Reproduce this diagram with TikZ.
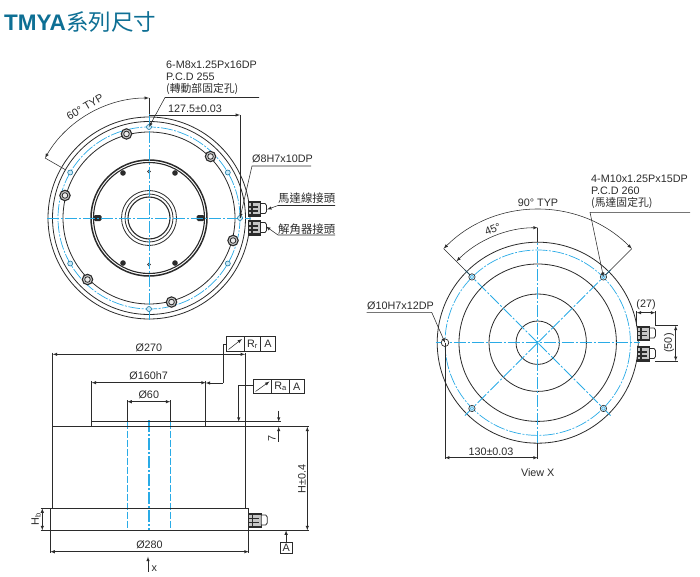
\documentclass[tikz,border=0pt]{standalone}
\usepackage{fontspec}
\setmainfont{Liberation Sans}
\newfontfamily\cjk{Noto Sans CJK TC}
\usetikzlibrary{positioning}
\definecolor{cline}{HTML}{2B2B2B}
\definecolor{cblue}{HTML}{2AABE6}
\definecolor{ctitle}{HTML}{0E6F94}
\tikzset{
	outline/.style={draw=cline, line width=0.8pt},
	thickline/.style={draw=cline, line width=1.5pt},
	thinline/.style={draw=cline, line width=0.55pt},
	dimline/.style={thinline, arrows={latex-latex}},
	leader/.style={thinline, arrows={-latex}},
	centerline/.style={draw=cblue, line width=0.9pt, dash pattern=on 12pt off 2pt on 2pt off 2pt},
	hiddenline/.style={draw=cblue, line width=0.9pt, dash pattern=on 7pt off 2pt},
	pcdline/.style={draw=cblue, line width=0.7pt, dash pattern=on 12pt off 1.5pt on 2pt off 1.5pt},
	dimtext/.style={text=cline, inner sep=0pt, font=\fontsize{10.8}{12}\selectfont},
	cjktext/.style={text=cline, inner sep=0pt, font=\cjk\fontsize{11.4}{12}\selectfont},
	plugbody/.pic={
		\draw [outline, fill=gray!45] (0,0) rectangle (12.5,14.5);
		\draw [thickline] (0,1) -- (12.5,1);
		\draw [thickline] (0,13.5) -- (12.5,13.5);
		\draw [thickline, line width=1.1pt] (0,5.5) -- (10,5.5);
		\draw [thickline, line width=1.1pt] (0,9.5) -- (10,9.5);
		\draw [thickline, line width=1.1pt] (4,0) -- (4,14.5);
		\draw [outline, fill=white] (12.5,2) -- (17,2) -- (18.5,4) -- (18.5,10) -- (17,12) -- (12.5,12) -- cycle;
	},
}
\begin{document}
\begin{tikzpicture}[x=1pt, y=-1pt]
	\useasboundingbox (0,0) rectangle (700,577);
	\node (title) [anchor=base west, inner sep=0pt, text=ctitle] at (4,30.5) {\fontsize{22.5}{24}\selectfont\bfseries TMYA\hspace{0.5pt}\cjk\mdseries\fontsize{22.5}{24}\selectfont 系列尺寸};

	% top view
	\begin{scope}[shift={(149,218)}, y=1pt]
		\foreach \r in {101,96.5,86} \draw [outline] (0,0) circle (\r);
		\draw [pcdline] (0,0) circle (91);
		\draw [thickline] (0,0) circle (58);
		\draw [thickline, line width=1.1pt] (0,0) circle (55.5);
		\foreach \r in {27.5,24} \draw [outline] (0,0) circle (\r);
		\draw [thickline, line width=1.1pt] (0,0) circle (21);
		\foreach \a in {60,120,240,300} \fill [cline] (\a:52) circle (2.8);
		\foreach \x in {-51.5,51.5} \fill [cline, rounded corners=1.5pt] (\x-4,-3) rectangle (\x+4,3);
		\foreach \y in {-46.5,46.5} \draw [thinline, fill=gray!60] (0,\y) circle (1.6);
		\foreach \a in {45,105,165,225,285,345} {
			\draw [thickline, line width=1.1pt, fill=gray!45] (\a:87) circle (5.2);
			\draw [outline, fill=gray!15] (\a:87) circle (2.8);
		}
		\draw [centerline] (-102,0) -- (102,0);
		\draw [centerline] (0,105) -- (0,-102);
		\foreach \a in {30,90,150,210,270,330,0} \draw [draw=cblue!70!black, line width=0.6pt, fill=cblue!25] (\a:91) circle (2.5);
		\coordinate (holetop) at (90:91);
		\coordinate (holeleft) at (150:91);
		\coordinate (holedowel) at (0:91);
		\coordinate (arctop) at (90:120);
		\coordinate (arcleft) at (150:120);
		% 60 degrees
		\draw [dimline] (arcleft) arc [start angle=150, end angle=90, radius=120];
		\draw [thinline] (150:120) -- (150:96);
		\draw [thinline] (arctop) -- (90:104);
		\coordinate (dimtop) at (91,103);
		\coordinate (dimcorner) at (0,103);
		\draw [thinline] (holedowel) -- (dimtop);
		\draw [thinline, arrows={-latex}] (dimcorner) -- (dimtop);
	\end{scope}
	\node (toptyp) [dimtext, rotate=30] at (85,107) {60° TYP};
	\node (topdim) [dimtext] at (195,109) {127.5±0.03};
	\node (toptext) [dimtext, align=left, anchor=north west] at (166,60.5) {6-M8x1.25Px16DP\\P.C.D 255\\{\cjk (轉動部固定孔)}};
	\coordinate (topknee) at (165,97.5);
	\coordinate (topend) at (259,97.5);
	\draw [leader] (topend) -- (topknee) -- (holetop);
	\node (dowel) [dimtext, anchor=base west] at (252,163) {Ø8H7x10DP};
	\coordinate (dowelknee) at (252,166);
	\coordinate (dowelend) at (311,166);
	\draw [leader] (dowelend) -- (dowelknee) -- (holedowel);
	\pic at (248,201.5) {plugbody};
	\pic at (248,220.5) {plugbody};
	\node (motorplug) [cjktext, anchor=west] at (278,198.5) {馬達線接頭};
	\coordinate (motorknee) at (278,205.5);
	\coordinate (motorend) at (335,205.5);
	\coordinate (motortip) at (267,209.5);
	\draw [leader] (motorend) -- (motorknee) -- (motortip);
	\node (resolver) [cjktext, anchor=west] at (278,229) {解角器接頭};
	\coordinate (resolverknee) at (278,235);
	\coordinate (resolverend) at (335,235);
	\coordinate (resolvertip) at (266,226.5);
	\draw [leader] (resolverend) -- (resolverknee) -- (resolvertip);

	% side view
	\draw [hiddenline] (127.3,421.7) -- (127.3,530.3);
	\draw [hiddenline] (170.3,421.7) -- (170.3,530.3);
	\draw [centerline, line width=1.1pt] (149,420) -- (149,530.3);
	\draw [outline] (52.7,426.7) -- (52.7,508.3) (245,426.7) -- (245,508.3);
	\draw [outline] (50.3,508.3) rectangle (248.7,530.3);
	\draw [outline] (52.7,426.7) -- (309.3,426.7);
	\draw [outline] (91.7,426.7) -- (91.7,421.7) (205.7,426.7) -- (205.7,421.7);
	\draw [thickline, line width=1.1pt] (91.7,421.7) -- (205.7,421.7);
	\draw [thinline] (205.7,421.7) -- (281,421.7);
	\draw [thinline] (248.7,530.3) -- (309.3,530.3);
	\pic at (248.7,513) {plugbody};
	% dimensions
	\draw [thinline] (52.7,352.7) -- (52.7,426.7) (245,352.7) -- (245,426.7);
	\draw [dimline] (52.7,354.3) -- (245,354.3) node (dimbody) [dimtext, midway, above=2.5pt] {Ø270};
	\draw [thinline] (91.7,381) -- (91.7,421.7) (205.7,381) -- (205.7,421.7);
	\draw [dimline] (91.7,382.7) -- (205.7,382.7) node (dimhub) [dimtext, midway, above=2.5pt] {Ø160h7};
	\draw [thinline] (127.3,400) -- (127.3,421.7) (170.3,400) -- (170.3,421.7);
	\draw [dimline] (127.3,401.7) -- (170.3,401.7) node (dimbore) [dimtext, midway, above=2.5pt] {Ø60};
	\draw [thinline] (50.3,530.3) -- (50.3,553.3) (248.7,530.3) -- (248.7,553.3);
	\draw [dimline] (50.3,551.7) -- (248.7,551.7) node (dimbase) [dimtext, midway, above=2.5pt] {Ø280};
	\draw [thinline] (40.7,508.3) -- (50.3,508.3) (40.7,530.3) -- (50.3,530.3);
	\draw [dimline] (42.3,508.3) -- (42.3,530.3);
	\node (dimhb) [dimtext, rotate=90] at (36,519) {H\textsubscript{b}};
	\draw [leader] (278.7,410.7) -- (278.7,421.7);
	\draw [leader] (278.7,441.7) -- (278.7,426.7);
	\node (dimseven) [dimtext, rotate=90] at (272,438) {7};
	\draw [dimline] (307.3,426.7) -- (307.3,530.3);
	\node (dimh) [dimtext, rotate=90] at (302,479) {H±0.4};
	\draw [leader] (148,571.7) -- (148,556.7);
	\node (viewarrow) [dimtext, anchor=base west] at (151.5,571.5) {x};
	% tolerance frames
	\draw [outline] (226.3,336) rectangle (275,351.7) (244.3,336) -- (244.3,351.7) (260.7,336) -- (260.7,351.7);
	\draw [leader] (228.5,349.5) -- (242,339);
	\node (frameRr) [dimtext] at (252.5,344.2) {R\textsubscript{r}};
	\node (frameRrA) [dimtext] at (267.9,344.2) {A};
	\draw [thinline] (226.3,344) -- (223,344) -- (223,383);
	\draw [thinline, arrows={-latex}] (223,383) -- (205.7,383);
	\draw [outline] (253.3,379.3) rectangle (304,393.3) (271.7,379.3) -- (271.7,393.3) (289.3,379.3) -- (289.3,393.3);
	\draw [leader] (255.5,391.5) -- (269.5,381.5);
	\node (frameRa) [dimtext] at (280.5,386.3) {R\textsubscript{a}};
	\node (frameRaA) [dimtext] at (296.7,386.3) {A};
	\draw [leader] (253.3,385.7) -- (238.7,385.7) -- (238.7,421.7);
	\node (datum) [outline, dimtext, minimum width=11.7pt, minimum height=10.6pt, inner sep=0pt] at (286.1,548) {A};
	\draw [leader] (datum) -- (286.1,530.3);

	% view X
	\begin{scope}[shift={(537.7,342.7)}, y=1pt]
		\foreach \r in {100.5,78.7,48.7,21.7} \draw [outline] (0,0) circle (\r);
		\draw [pcdline] (0,0) circle (92.7);
		\draw [centerline] (-102,0) -- (102,0);
		\draw [centerline] (0,-100) -- (0,100);
		\foreach \a in {45,135,225,315} \draw [centerline] (\a:103) -- (\a+180:0);
		\foreach \a in {45,135,225,315} {
			\draw [draw=cline, line width=0.6pt, fill=cblue!25] (\a:93) circle (3.2);
			\draw [draw=cblue, line width=0.4pt] (\a:93) circle (1.8);
		}
		\draw [draw=cline, line width=0.7pt, fill=white] (180:92.7) circle (3.8);
		\coordinate (holeright) at (45:93);
		\coordinate (holeten) at (180:92.7);
		\coordinate (arcright) at (45:133);
		\coordinate (arcleft) at (135:133);
		\coordinate (arcmid) at (135:115);
		\coordinate (arcup) at (90:115);
		\coordinate (dimbottom) at (0,-115);
		\coordinate (dimleft) at (-92.7,-115);
		\draw [dimline] (arcright) arc [start angle=45, end angle=135, radius=133];
		\draw [dimline] (arcup) arc [start angle=90, end angle=135, radius=115];
		\draw [thinline] (arcright) -- (45:96);
		\draw [thinline] (arcleft) -- (135:96);
		\draw [thinline] (arcup) -- (90:100.5);
		\draw [thinline] (holeten) -- (-92.7,-116.5);
		\draw [thinline] (0,-100.5) -- (0,-116.5);
		\draw [dimline] (dimleft) -- (dimbottom);
	\end{scope}
	\node (typninety) [dimtext] at (538,203) {90° TYP};
	\node (typhalf) [dimtext, rotate=22] at (492.7,229) {45°};
	\node (viewdim) [dimtext] at (491,452) {130±0.03};
	\node (viewname) [dimtext] at (537.7,473) {View X};
	\node (viewtext) [dimtext, align=left, anchor=north west] at (591,175) {4-M10x1.25Px15DP\\P.C.D 260\\{\cjk (馬達固定孔)}};
	\coordinate (viewknee) at (590,212.3);
	\coordinate (viewend) at (690,212.3);
	\draw [leader] (viewend) -- (viewknee) -- (holeright);
	\node (tendowel) [dimtext, anchor=base west] at (367,309.5) {Ø10H7x12DP};
	\coordinate (tenknee) at (431.7,312.3);
	\coordinate (tenend) at (366.7,312.3);
	\draw [leader] (tenend) -- (tenknee) -- (holeten);
	\pic at (637,326) {plugbody};
	\pic at (637,346.5) {plugbody};
	\draw [thinline] (636.7,311) -- (636.7,326) (655.3,311) -- (655.3,326);
	\draw [dimline] (636.7,312.7) -- (655.3,312.7);
	\node (dimplug) [dimtext] at (646,305) {(27)};
	\draw [thinline] (655.3,325.7) -- (677.5,325.7) (655.3,361) -- (677.5,361);
	\draw [dimline] (675.7,325.7) -- (675.7,361);
	\node (dimtwin) [dimtext, rotate=90] at (669,343) {(50)};
\end{tikzpicture}
\end{document}
